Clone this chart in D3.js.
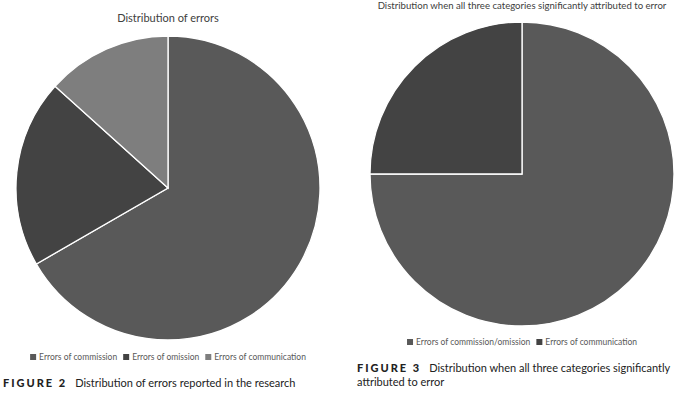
<!DOCTYPE html>
<html>
<head>
<meta charset="utf-8">
<script src="https://cdn.jsdelivr.net/npm/d3@7"></script>
<style>
  body { margin: 0; background: #fff; }
  .title { font-family: Lato, sans-serif; fill: #404040; text-anchor: middle; }
  .legend-text { font-family: Lato, sans-serif; font-size: 8.5px; fill: #595959; }
  .cap-label { font-family: Lato, sans-serif; font-weight: 900; font-size: 11px; letter-spacing: 2px; fill: #222; }
  .cap-text { font-family: Lato, sans-serif; font-size: 11px; fill: #222; }
</style>
</head>
<body>
<div class="viz"></div>
<script>
// figure 2 data
var categories2 = ["Errors of commission", "Errors of omission", "Errors of communication"];
var values2 = [30, 9, 6];

// figure 3 data
var categories3 = ["Errors of commission/omission", "Errors of communication"];
var values3 = [75, 25];

// slice colours
var colors = ["#595959", "#434343", "#7e7e7e"];

var width = 683, height = 393;
var radius = 152;

var svg = d3.select(".viz")
  .append("svg")
  .attr("width", width)
  .attr("height", height);

var pie = d3.pie().sort(null).value(d => d.value);
var arc = d3.arc().innerRadius(0).outerRadius(radius);

function drawPie(cats, vals, cx, cy, title, titleY, titleSize, legendY) {
  var data = cats.map((c, i) => ({ name: c, value: vals[i] }));
  var color = d3.scaleOrdinal().domain(cats).range(colors);

  svg.append("text").attr("class", "title")
    .attr("x", cx).attr("y", titleY)
    .style("font-size", titleSize + "px")
    .text(title);

  var g = svg.append("g")
    .attr("transform", "translate(" + cx + "," + cy + ")");

  g.selectAll("path")
    .data(pie(data))
    .enter()
    .append("path")
    .attr("d", arc)
    .style("fill", d => color(d.data.name))
    .style("stroke", "#fff")
    .style("stroke-width", 1.3);

  // legend, centred under the pie
  var legend = svg.append("g");
  var x = 0;
  cats.forEach(function(c) {
    var item = legend.append("g").attr("transform", "translate(" + x + ",0)");
    item.append("rect")
      .attr("x", 0).attr("y", -6)
      .attr("width", 6).attr("height", 6)
      .style("fill", color(c));
    var t = item.append("text").attr("class", "legend-text")
      .attr("x", 9).attr("y", 0)
      .text(c);
    x += 9 + t.node().getComputedTextLength() + 6;
  });
  var w = x - 6;
  legend.attr("transform", "translate(" + (cx - w / 2) + "," + legendY + ")");
}

drawPie(categories2, values2, 168, 188, "Distribution of errors", 22, 11, 360);
drawPie(categories3, values3, 522, 174, "Distribution when all three categories significantly attributed to error", 9, 9.6, 345);

// captions
var cap2 = svg.append("text").attr("x", 3).attr("y", 387);
cap2.append("tspan").attr("class", "cap-label").text("FIGURE 2");
cap2.append("tspan").attr("class", "cap-text").attr("dx", 8).text("Distribution of errors reported in the research");

var cap3 = svg.append("text").attr("x", 357).attr("y", 372);
cap3.append("tspan").attr("class", "cap-label").text("FIGURE 3");
cap3.append("tspan").attr("class", "cap-text").attr("dx", 8).text("Distribution when all three categories significantly");
svg.append("text").attr("class", "cap-text").attr("x", 357).attr("y", 386).text("attributed to error");
</script>
</body>
</html>
